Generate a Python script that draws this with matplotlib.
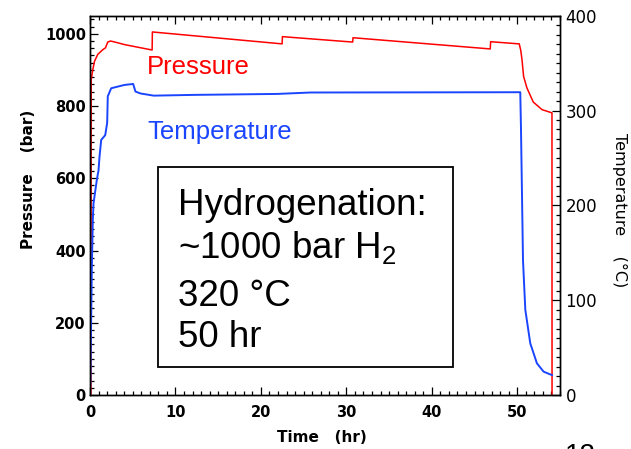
import matplotlib
matplotlib.use('Agg')
import matplotlib.pyplot as plt
from matplotlib.ticker import MultipleLocator
from matplotlib.patches import Rectangle

plt.rcParams['mathtext.fontset'] = 'custom'
plt.rcParams['mathtext.rm'] = 'Liberation Sans'

# pressure trace (bar)
time_p = [0.10, 0.14, 0.33, 0.53, 0.91, 1.50, 1.81, 2.08, 2.40, 3.25, 4.04, 7.27, 7.30,
          22.48, 22.52, 30.74, 30.78, 46.84, 46.88, 50.23, 50.40, 50.55, 50.74, 51.13,
          51.87, 52.89, 54.06, 54.07]
pressure = [0, 873, 901, 924, 943, 956, 961, 977, 980, 975, 970, 955, 1005,
            972, 992, 977, 989, 958, 978, 972, 955, 929, 882, 850,
            811, 790, 781, 0]

# temperature trace (C)
time_t = [0.03, 0.06, 0.21, 0.33, 0.41, 0.80, 1.00, 1.11, 1.31, 1.78, 2.01, 2.08, 2.48,
          4.04, 5.05, 5.32, 5.90, 7.46, 12.2, 21.9, 25.8, 50.35, 50.43, 50.55, 50.67,
          50.94, 51.52, 52.30, 53.08, 54.06]
temperature = [10, 26, 132, 185, 202, 227, 237, 251, 269, 274, 287, 315, 323.5,
               327, 328, 320, 318, 315.7, 316.5, 317.5, 319, 319.3, 283, 213, 142,
               90, 54.5, 33.4, 24.6, 21]

box_lines = ['Hydrogenation:', '~1000 bar H$_2$', '320 \u00b0C', '50 hr']

W = 631
H = 449
red = '#ff0000'
blue = '#1a45ff'

fig = plt.figure(figsize=(W / 100, H / 100), dpi=100)
ax = fig.add_axes([90 / W, 1 - 395 / H, 470 / W, 379.3 / H])
ax2 = ax.twinx()

ax.plot(time_p, pressure, color=red, lw=1.1)
ax2.plot(time_t, temperature, color=blue, lw=1.4)

ax.set_xlim(0, 55)
ax.set_ylim(0, 1050)
ax2.set_ylim(0, 400)

ax.xaxis.set_major_locator(MultipleLocator(10))
ax.xaxis.set_minor_locator(MultipleLocator(1))
ax.yaxis.set_major_locator(MultipleLocator(200))
ax.yaxis.set_minor_locator(MultipleLocator(20))
ax2.yaxis.set_major_locator(MultipleLocator(100))
ax2.yaxis.set_minor_locator(MultipleLocator(10))

ax.tick_params(which='both', direction='in', top=True, right=False, width=0.9)
ax.tick_params(which='major', length=6)
ax.tick_params(which='minor', length=2.8)
ax.tick_params(axis='x', pad=7)
ax.tick_params(axis='y', pad=3)
ax2.tick_params(which='both', direction='in', width=0.9, pad=4)
ax2.tick_params(which='major', length=6)
ax2.tick_params(which='minor', length=2.8)

for lab in ax.get_xticklabels() + ax.get_yticklabels():
    lab.set_fontfamily('DejaVu Sans')
    lab.set_fontweight('bold')
    lab.set_fontsize(10.5)
for lab in ax2.get_yticklabels():
    lab.set_fontfamily('DejaVu Sans')
    lab.set_fontsize(12)

for sp in ax.spines.values():
    sp.set_linewidth(1.0)
for sp in ax2.spines.values():
    sp.set_linewidth(1.0)

ax.set_xlabel('Time   (hr)', fontsize=11, fontweight='bold', family='DejaVu Sans')
ax.xaxis.set_label_coords((322 - 90) / 470, -(430 - 395) / 379.3)
ax.set_ylabel('Pressure    (bar)', fontsize=11, fontweight='bold', family='DejaVu Sans')
ax.yaxis.set_label_coords((36 - 90) / 470, (395 - 179) / 379.3)
ax2.set_ylabel('Temperature    (\u00b0C)', fontsize=11.5, family='DejaVu Sans',
               rotation=-90, va='center')
ax2.yaxis.set_label_coords((620 - 90) / 470, (395 - 210) / 379.3)

# series names inside the plot
fig.text(147 / W, 1 - 74.3 / H, 'Pressure', color=red, fontsize=18.5,
         family='Liberation Sans', va='baseline')
fig.text(147 / W, 1 - 139 / H, 'Temperature', color=blue, fontsize=18.5,
         family='Liberation Sans', va='baseline')

# conditions box
box = Rectangle((158 / W, 1 - 367 / H), (453 - 158) / W, 200 / H, transform=fig.transFigure,
                facecolor='white', edgecolor='black', lw=1.3)
fig.add_artist(box)
baselines = [215, 258.5, 306, 347]
for txt, yb in zip(box_lines, baselines):
    fig.text(178 / W, 1 - yb / H, txt, fontsize=26.5, family='Liberation Sans',
             va='baseline', zorder=5)

# slide number, mostly cut off at the bottom edge (as in the original slide)
fig.text(565 / W, 1 - 443 / H, '12', fontsize=20, family='Liberation Sans', va='top')

fig.savefig('out.png', dpi=100)
